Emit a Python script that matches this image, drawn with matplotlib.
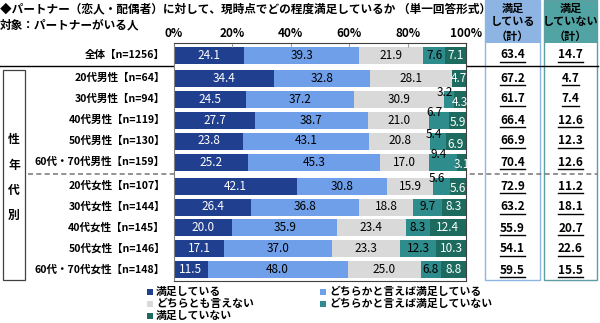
import matplotlib
matplotlib.use('Agg')
import matplotlib.pyplot as plt
from matplotlib.patches import Rectangle
from matplotlib.lines import Line2D

plt.rcParams['font.family'] = ['Noto Sans CJK JP', 'DejaVu Sans']

# data
groups = ['全体【n=1256】',
          '20代男性【n=64】', '30代男性【n=94】', '40代男性【n=119】',
          '50代男性【n=130】', '60代・70代男性【n=159】',
          '20代女性【n=107】', '30代女性【n=144】', '40代女性【n=145】',
          '50代女性【n=146】', '60代・70代女性【n=148】']
very = [24.1, 34.4, 24.5, 27.7, 23.8, 25.2, 42.1, 26.4, 20.0, 17.1, 11.5]
rather = [39.3, 32.8, 37.2, 38.7, 43.1, 45.3, 30.8, 36.8, 35.9, 37.0, 48.0]
neutral = [21.9, 28.1, 30.9, 21.0, 20.8, 17.0, 15.9, 18.8, 23.4, 23.3, 25.0]
rather_not = [7.6, 0.0, 3.2, 6.7, 5.4, 9.4, 5.6, 9.7, 8.3, 12.3, 6.8]
not_at_all = [7.1, 4.7, 4.3, 5.9, 6.9, 3.1, 5.6, 8.3, 12.4, 10.3, 8.8]
sat_total = [63.4, 67.2, 61.7, 66.4, 66.9, 70.4, 72.9, 63.2, 55.9, 54.1, 59.5]
unsat_total = [14.7, 4.7, 7.4, 12.6, 12.3, 12.6, 11.2, 18.1, 20.7, 22.6, 15.5]
series_names = ['満足している', 'どちらかと言えば満足している', 'どちらとも言えない',
                'どちらかと言えば満足していない', '満足していない']

# layout (pixel units, y from top)
W, H = 600, 323
ypos = [55, 78, 99, 120, 141, 162, 186, 207, 228, 249, 270]
stagger = [2, 3, 4, 5, 6]  # rows whose two small labels are offset
colors = ['#213f8f', '#6f9fe8', '#d9d9d9', '#2f8c8c', '#1c6b5e']
txt_colors = ['white', 'black', 'black', 'black', 'white']
legend_pos = [(147, 292), (320, 292), (147, 304), (320, 304), (147, 316)]


def fx(x):
    return x / W


def fy(y):
    return 1 - y / H


fig = plt.figure(figsize=(6, 3.23), dpi=100)

# overlay for boxes and lines, in pixel units
bg = fig.add_axes([0, 0, 1, 1])
bg.set_xlim(0, W)
bg.set_ylim(H, 0)
bg.axis('off')

ax = fig.add_axes([fx(174), fy(281), 292 / W, (281 - 43) / H])
ax.set_xlim(0, 100)
ax.set_ylim(281, 43)

series = [very, rather, neutral, rather_not, not_at_all]
left = [0.0] * len(groups)
for k, vals in enumerate(series):
    ax.barh(ypos, vals, left=left, height=17, color=colors[k], edgecolor='none')
    for i, v in enumerate(vals):
        if v <= 0:
            continue
        cx = left[i] + v / 2
        cy = ypos[i]
        if i in stagger and k == 3:
            cx -= 1.5
            cy -= 7
        elif i in stagger and k == 4:
            cy += 3
        ax.text(cx, cy, f'{v:.1f}', ha='center', va='center', fontsize=8.5,
                color=txt_colors[k])
    left = [l + v for l, v in zip(left, vals)]

ax.xaxis.tick_top()
ax.set_xticks([0, 20, 40, 60, 80, 100])
ax.set_xticklabels(['0%', '20%', '40%', '60%', '80%', '100%'], fontsize=8.5,
                   fontweight='bold')
ax.tick_params(axis='x', direction='in', length=3, color='#a0a0a0', pad=2)
ax.set_yticks([])
for s in ax.spines.values():
    s.set_color('#404040')
    s.set_linewidth(0.8)
ax.spines['left'].set_color('#808080')

# row labels
for g, y in zip(groups, ypos):
    bg.text(165, y, g, ha='right', va='center', fontsize=7.6, fontweight='bold')

# title
bg.text(0, 9, '◆パートナー（恋人・配偶者）に対して、現時点でどの程度満足しているか （単一回答形式）',
        ha='left', va='center', fontsize=8.4, fontweight='bold')
bg.text(0, 25, '対象：パートナーがいる人', ha='left', va='center', fontsize=8.4,
        fontweight='bold')

# left box
bg.add_patch(Rectangle((3, 70), 22, 210, fill=False, edgecolor='#404040', lw=0.9))
for ch, y in zip('性年代別', [140, 165, 190, 215]):
    bg.text(14, y, ch, ha='center', va='center', fontsize=8.5, fontweight='bold')

# right summary columns
cols = [(485, 55, '#8db4e2', '#8db4e2', 'している', sat_total),
        (544, 53, '#52a3a3', '#5f9ea0', 'していない', unsat_total)]
value_texts = []
for x0, w, fill, edge, head, vals in cols:
    bg.add_patch(Rectangle((x0, 0), w, 43, facecolor=fill, edgecolor='none'))
    bg.add_patch(Rectangle((x0, 0), w, 280, fill=False, edgecolor=edge, lw=1))
    cx = x0 + w / 2
    for line, y in zip(['満足', head, '（計）'], [8, 22, 36]):
        bg.text(cx, y, line, ha='center', va='center', fontsize=8,
                fontweight='bold')
    for v, y in zip(vals, ypos):
        t = bg.text(cx, y, f'{v:.1f}', ha='center', va='center', fontsize=8.5,
                    fontweight='bold')
        value_texts.append(t)

# separators
bg.plot([0, 598], [66, 66], color='black', lw=1)
bg.plot([28, 598], [174, 174], color='#808080', lw=1.2, ls=(0, (3, 2)))

# legend
for k, (lx, ly) in enumerate(legend_pos):
    bg.add_patch(Rectangle((lx, ly - 3), 6, 6, facecolor=colors[k],
                           edgecolor='none'))
    bg.text(lx + 9, ly, series_names[k], ha='left', va='center', fontsize=7.8,
            fontweight='bold')

# underline summary values
fig.canvas.draw()
inv = fig.transFigure.inverted()
for t in value_texts:
    bb = t.get_window_extent()
    (x0, y0), (x1, _) = inv.transform([(bb.x0, bb.y0 - 0.5), (bb.x1, bb.y0)])
    fig.add_artist(Line2D([x0, x1], [y0, y0], color='black', lw=1,
                          transform=fig.transFigure))

fig.savefig('out.png', dpi=100)
